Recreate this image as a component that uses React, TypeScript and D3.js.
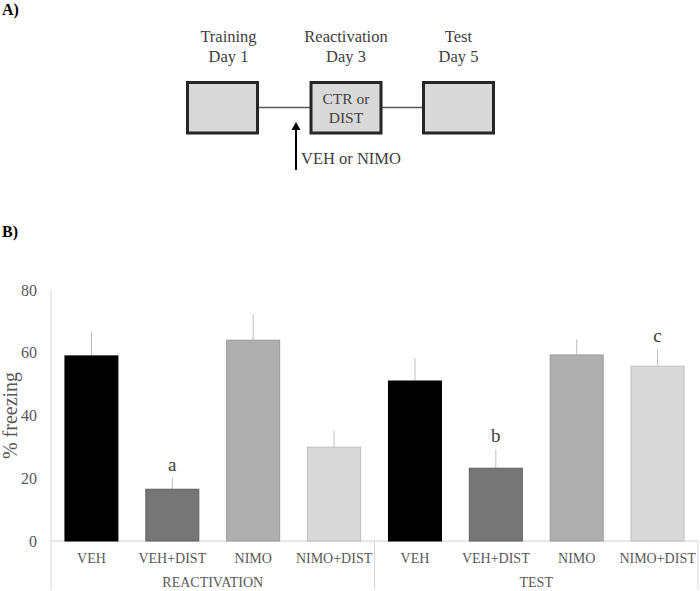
import React from "react"
import * as d3 from "d3"

// data
const groups = ["REACTIVATION", "TEST"]
const conditions = ["VEH", "VEH+DIST", "NIMO", "NIMO+DIST"]
const reactivationMeans = [59, 16.5, 64, 29.9]
const reactivationSEM = [7.8, 3.7, 8.2, 5.3]
const testMeans = [51, 23.2, 59.3, 55.7]
const testSEM = [7.2, 6.0, 5.0, 5.5]
const letters = [["", "a", "", ""], ["", "b", "", "c"]]
const yTicks = [0, 20, 40, 60, 80]

// protocol schematic
const stages = [
  { title: "Training", day: "Day 1", inner: [] as string[] },
  { title: "Reactivation", day: "Day 3", inner: ["CTR or", "DIST"] },
  { title: "Test", day: "Day 5", inner: [] as string[] },
]
const stageCenters = [222.5, 346, 458.5]
const injectionLabel = "VEH or NIMO"

const fills = ["#000000", "#767676", "#afafaf", "#d9d9d9"]
const strokes = ["#000000", "#5f5f5f", "#9a9a9a", "#bdbdbd"]

const FONT = "'Liberation Serif', 'Times New Roman', serif"
const TXT = "#595959"

export default function App() {
  const W = 700
  const H = 591
  const left = 51
  const right = 698
  const baseY = 541
  const bottom = 590

  const x0 = d3.scaleBand().domain(groups).range([left, right]).padding(0)
  const x1 = d3
    .scaleBand()
    .domain(conditions)
    .range([0, x0.bandwidth()])
    .paddingInner(0.345)
    .paddingOuter(0.1725)
  const y = d3.scaleLinear().domain([0, 80]).range([baseY, 290])

  const data = groups.map((g, gi) =>
    conditions.map((c, ci) => ({
      group: g,
      cond: c,
      ci,
      mean: gi === 0 ? reactivationMeans[ci] : testMeans[ci],
      sem: gi === 0 ? reactivationSEM[ci] : testSEM[ci],
      letter: letters[gi][ci],
    }))
  )

  const boxW = 70
  const boxTop = 82.5
  const boxBottom = 133
  const lineY = 107.5

  return (
    <svg width={W} height={H} style={{ display: "block", position: "absolute", left: 0, top: 0 }} fontFamily={FONT}>
      <rect width={W} height={H} fill="#fff" />
      {/* panel A */}
      <text x={2} y={15} fontSize={16} fontWeight="bold" fill="#000">A)</text>
      {stageCenters.slice(0, -1).map((cx, i) => (
        <line key={"l" + i} x1={cx + boxW / 2} x2={stageCenters[i + 1] - boxW / 2} y1={lineY} y2={lineY}
          stroke="#595959" strokeWidth={1.5} />
      ))}
      {stages.map((s, i) => {
        const cx = stageCenters[i]
        return (
          <g key={s.title}>
            <text x={cx + (i === 0 ? 6 : 0)} y={42} textAnchor="middle" fontSize={16.5} fill="#404040">{s.title}</text>
            <text x={cx + (i === 0 ? 6 : 0)} y={62} textAnchor="middle" fontSize={16.5} fill="#404040">{s.day}</text>
            <rect x={cx - boxW / 2} y={boxTop} width={boxW} height={boxBottom - boxTop}
              fill="#d9d9d9" stroke="#262626" strokeWidth={3} />
            {s.inner.map((t, k) => (
              <text key={t} x={cx} y={103.5 + k * 19.5} textAnchor="middle" fontSize={15.5} fill="#404040">{t}</text>
            ))}
          </g>
        )
      })}
      <line x1={296} x2={296} y1={170} y2={129} stroke="#000" strokeWidth={2} />
      <path d="M291.5,130 L296,122 L300.5,130 Z" fill="#000" />
      <text x={301} y={164} fontSize={16.5} fill="#404040">{injectionLabel}</text>

      {/* panel B */}
      <text x={2} y={237} fontSize={16} fontWeight="bold" fill="#000">B)</text>
      <text transform={`translate(17,${y(40)}) rotate(-90)`} textAnchor="middle" fontSize={20} fill={TXT}>% freezing</text>
      <line x1={left} x2={left} y1={y(80) - 1} y2={bottom} stroke="#d9d9d9" strokeWidth={1} />
      {yTicks.map(t => (
        <text key={t} x={37} y={y(t) + 5.5} textAnchor="end" fontSize={16} fill={TXT}>{t}</text>
      ))}
      <line x1={left} x2={right} y1={baseY} y2={baseY} stroke="#d0d0d0" strokeWidth={1} />
      {groups.map((g, gi) => (
        <line key={"sep" + g} x1={x0(g)! + x0.bandwidth()} x2={x0(g)! + x0.bandwidth()} y1={baseY} y2={bottom}
          stroke="#d9d9d9" strokeWidth={1} />
      ))}
      {data.map((rows, gi) => (
        <g key={groups[gi]} transform={`translate(${x0(groups[gi])},0)`}>
          {rows.map(d => {
            const bx = x1(d.cond)!
            const cx = bx + x1.bandwidth() / 2
            return (
              <g key={d.cond}>
                <line x1={cx} x2={cx} y1={y(d.mean)} y2={y(d.mean + d.sem)} stroke="#bfbfbf" strokeWidth={1} />
                <rect x={bx} y={y(d.mean)} width={x1.bandwidth()} height={baseY - y(d.mean)}
                  fill={fills[d.ci]} stroke={strokes[d.ci]} strokeWidth={1} />
                {d.letter && (
                  <text x={cx} y={y(d.mean + d.sem) - 7} textAnchor="middle" fontSize={19} fill="#404040">{d.letter}</text>
                )}
                <text x={cx} y={563} textAnchor="middle" fontSize={14} fill={TXT}>{d.cond}</text>
              </g>
            )
          })}
          <text x={x0.bandwidth() / 2} y={586.5} textAnchor="middle" fontSize={14} fill={TXT}>{groups[gi]}</text>
        </g>
      ))}
    </svg>
  )
}
